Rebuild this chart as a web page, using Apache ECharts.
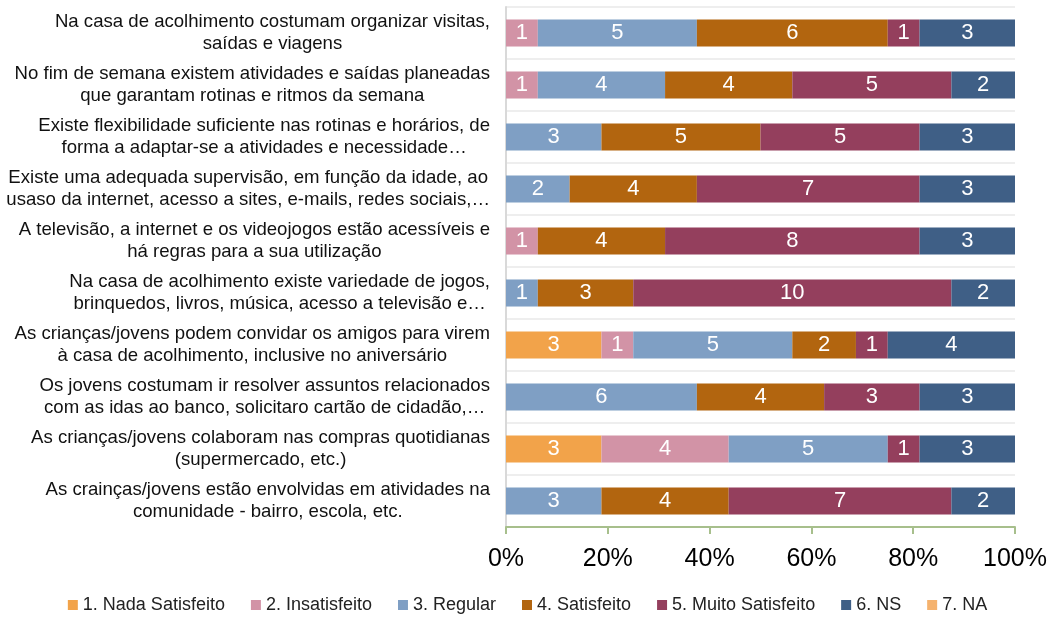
<!DOCTYPE html>
<html>
<head>
<meta charset="utf-8">
<script src="https://cdn.jsdelivr.net/npm/echarts@6/dist/echarts.min.js"></script>
<style>
  html, body { margin: 0; padding: 0; background: #fff; }
  #chart { width: 1055px; height: 619px; }
</style>
</head>
<body>
<div id="chart"></div>
<script>
var categories = [
    'Na casa de acolhimento costumam organizar visitas,\nsaídas e viagens',
    'No fim de semana existem atividades e saídas planeadas\nque garantam rotinas e ritmos da semana',
    'Existe flexibilidade suficiente nas rotinas e horários, de\nforma a adaptar-se a atividades e necessidade…',
    'Existe uma adequada supervisão, em função da idade, ao\nusaso da internet, acesso a sites, e-mails, redes sociais,…',
    'A televisão, a internet e os videojogos estão acessíveis e\nhá regras para a sua utilização',
    'Na casa de acolhimento existe variedade de jogos,\nbrinquedos, livros, música, acesso a televisão e…',
    'As crianças/jovens podem convidar os amigos para virem\nà casa de acolhimento, inclusive no aniversário',
    'Os jovens costumam ir resolver assuntos relacionados\ncom as idas ao banco, solicitaro cartão de cidadão,…',
    'As crianças/jovens colaboram nas compras quotidianas\n(supermercado, etc.)',
    'As crainças/jovens estão envolvidas em atividades na\ncomunidade - bairro, escola, etc.'
];
var seriesNames = ['1. Nada Satisfeito', '2. Insatisfeito', '3. Regular', '4. Satisfeito', '5. Muito Satisfeito', '6. NS', '7. NA'];
var nadaSatisfeito = [0, 0, 0, 0, 0, 0, 3, 0, 3, 0];
var insatisfeito   = [1, 1, 0, 0, 1, 0, 1, 0, 4, 0];
var regular        = [5, 4, 3, 2, 0, 1, 5, 6, 5, 3];
var satisfeito     = [6, 4, 5, 4, 4, 3, 2, 4, 0, 4];
var muitoSatisfeito = [1, 5, 5, 7, 8, 10, 1, 3, 1, 7];
var ns             = [3, 2, 3, 3, 3, 2, 4, 3, 3, 2];
var na             = [0, 0, 0, 0, 0, 0, 0, 0, 0, 0];

var colors = ['#F2A34A', '#D293A6', '#7F9FC4', '#B2650F', '#943F5D', '#3F5F86', '#F5B26E'];
var allCounts = [nadaSatisfeito, insatisfeito, regular, satisfeito, muitoSatisfeito, ns, na];

// total de respostas por pergunta (para o 100%)
var totals = categories.map(function (c, i) {
    var s = 0;
    allCounts.forEach(function (arr) { s += arr[i]; });
    return s;
});

var series = allCounts.map(function (arr, k) {
    return {
        name: seriesNames[k],
        type: 'bar',
        stack: 'total',
        barCategoryGap: '48%',
        itemStyle: { color: colors[k] },
        label: {
            show: true,
            color: '#fff',
            fontSize: 22,
            fontFamily: 'Liberation Sans',
            formatter: function (p) {
                return p.data.count > 0 ? String(p.data.count) : '';
            }
        },
        data: arr.map(function (v, i) {
            return { value: v / totals[i], count: v };
        })
    };
});

var myChart = echarts.init(document.getElementById('chart'));
var option = {
    backgroundColor: '#fff',
    animation: false,
    textStyle: { fontFamily: 'Liberation Sans' },
    legend: {
        bottom: 0,
        left: 'center',
        itemWidth: 10,
        itemHeight: 10,
        itemGap: 26,
        icon: 'rect',
        textStyle: { fontSize: 18, color: '#222', fontFamily: 'Liberation Sans' },
        data: seriesNames
    },
    grid: {
        left: 506,
        right: 40,
        top: 7,
        bottom: 92
    },
    xAxis: {
        type: 'value',
        min: 0,
        max: 1,
        interval: 0.2,
        axisLine: { show: true, lineStyle: { color: '#A7BF8C', width: 2 } },
        axisTick: { show: true, length: 7, lineStyle: { color: '#A7BF8C', width: 2 } },
        splitLine: { show: false },
        axisLabel: {
            fontSize: 25,
            color: '#000',
            margin: 20,
            formatter: function (v) {
                return Math.round(v * 100) + '%';
            }
        }
    },
    yAxis: {
        type: 'category',
        inverse: true,
        data: categories,
        axisLine: { show: true, lineStyle: { color: '#D9D9D9', width: 2 } },
        axisTick: { show: false },
        splitLine: { show: true, lineStyle: { color: '#EEEEEE', width: 2 } },
        axisLabel: {
            margin: 16,
            color: '#111',
            fontSize: 18.6,
            lineHeight: 22,
            formatter: function (v) {
                return v.split('\n').map(function (l) {
                    return '{c|' + l + '}';
                }).join('\n');
            },
            rich: {
                c: { align: 'center', fontSize: 18.6, lineHeight: 22, color: '#111' }
            }
        }
    },
    series: series
};
myChart.setOption(option);
</script>
</body>
</html>
